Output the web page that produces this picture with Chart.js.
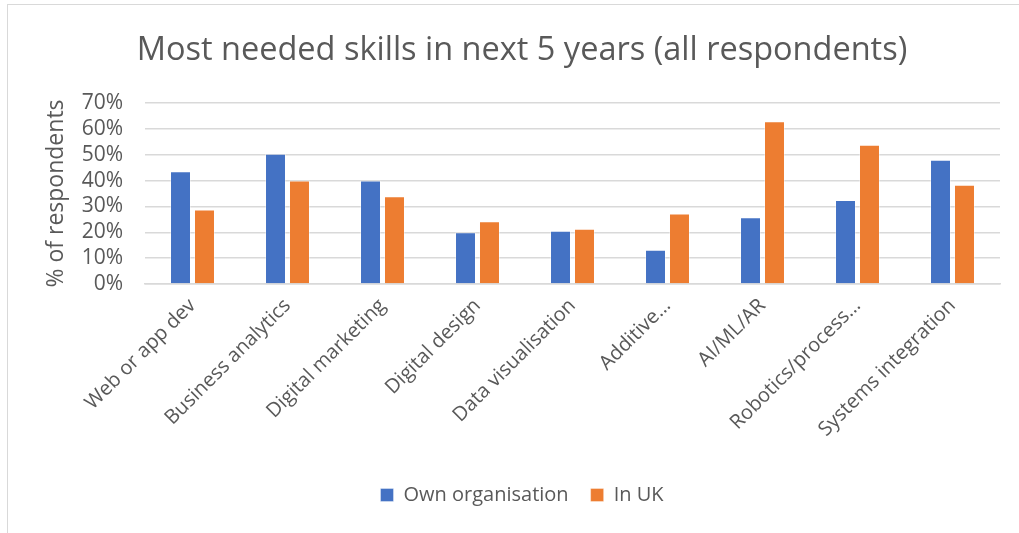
<!DOCTYPE html>
<html>
<head>
<meta charset="utf-8">
<script src="https://cdn.jsdelivr.net/npm/chart.js@4.4.1/dist/chart.umd.min.js"></script>
<style>
  html, body { margin: 0; padding: 0; background: #fff; overflow: hidden; }
  #frame {
    position: absolute; left: 7px; top: 4px;
    width: 1030px; height: 540px;
    border: 1px solid #d9d9d9;
  }
  #wrap { position: absolute; left: 0; top: 0; width: 1028px; height: 528px; }
</style>
</head>
<body>
<div id="frame">
  <div id="wrap"><canvas id="chart"></canvas></div>
</div>
<script>
// Categorias e valores
const categories = ['Web or app dev', 'Business analytics', 'Digital marketing', 'Digital design',
  'Data visualisation', 'Additive…', 'AI/ML/AR', 'Robotics/process…', 'Systems integration'];
const ownOrganisation = [43.6, 50.4, 40.0, 20.0, 20.6, 13.2, 25.8, 32.5, 48.1];
const inUK = [28.8, 40.0, 33.9, 24.3, 21.4, 27.3, 62.9, 53.9, 38.4];
const yTicks = [0, 10, 20, 30, 40, 50, 60, 70];

const FONT = "'Open Sans', sans-serif";
const GREY = '#595959';

new Chart(document.getElementById('chart').getContext('2d'), {
    type: 'bar',
    data: {
        labels: categories,
        datasets: [{
            label: 'Own organisation',
            data: ownOrganisation,
            backgroundColor: '#4472c4',
            borderColor: 'rgba(255,255,255,0.35)',
            borderWidth: 1,
            categoryPercentage: 0.505,
            barPercentage: 0.875
        }, {
            label: 'In UK',
            data: inUK,
            backgroundColor: '#ed7d31',
            borderColor: 'rgba(255,255,255,0.35)',
            borderWidth: 1,
            categoryPercentage: 0.505,
            barPercentage: 0.875
        }]
    },
    options: {
        responsive: true,
        maintainAspectRatio: false,
        animation: false,
        layout: { padding: { left: 0, right: 0, top: 0, bottom: 18 } },
        scales: {
            x: {
                grid: { display: false },
                border: { display: true, color: '#d9d9d9', width: 1.5 },
                ticks: {
                    color: GREY,
                    font: { family: FONT, size: 20 },
                    maxRotation: 45,
                    minRotation: 45,
                    padding: 2
                },
                // espaço à direita do gráfico sem deslocar título e legenda
                afterFit: axis => { axis.height = 179; axis.paddingRight = 36; }
            },
            y: {
                min: 0,
                max: 70,
                afterBuildTicks: axis => { axis.ticks = yTicks.map(v => ({ value: v })); },
                afterFit: axis => { axis.width = 137; },
                grid: { color: '#d9d9d9', lineWidth: 1.5, drawTicks: false },
                border: { display: false },
                ticks: {
                    color: GREY,
                    font: { family: FONT, size: 21 },
                    padding: 22,
                    autoSkip: false,
                    callback: v => v + '%'
                },
                title: {
                    display: true,
                    text: '% of respondents',
                    color: GREY,
                    font: { family: FONT, size: 23 },
                    padding: { top: 35, bottom: 0 }
                }
            }
        },
        plugins: {
            title: {
                display: true,
                text: 'Most needed skills in next 5 years (all respondents)',
                color: GREY,
                font: { family: FONT, size: 32.5, weight: 'normal' },
                padding: { top: 26, bottom: 33 }
            },
            legend: {
                position: 'bottom',
                labels: {
                    color: GREY,
                    font: { family: FONT, size: 20 },
                    boxWidth: 13,
                    boxHeight: 13,
                    padding: 22
                }
            },
            tooltip: { enabled: false }
        }
    }
});
</script>
</body>
</html>
